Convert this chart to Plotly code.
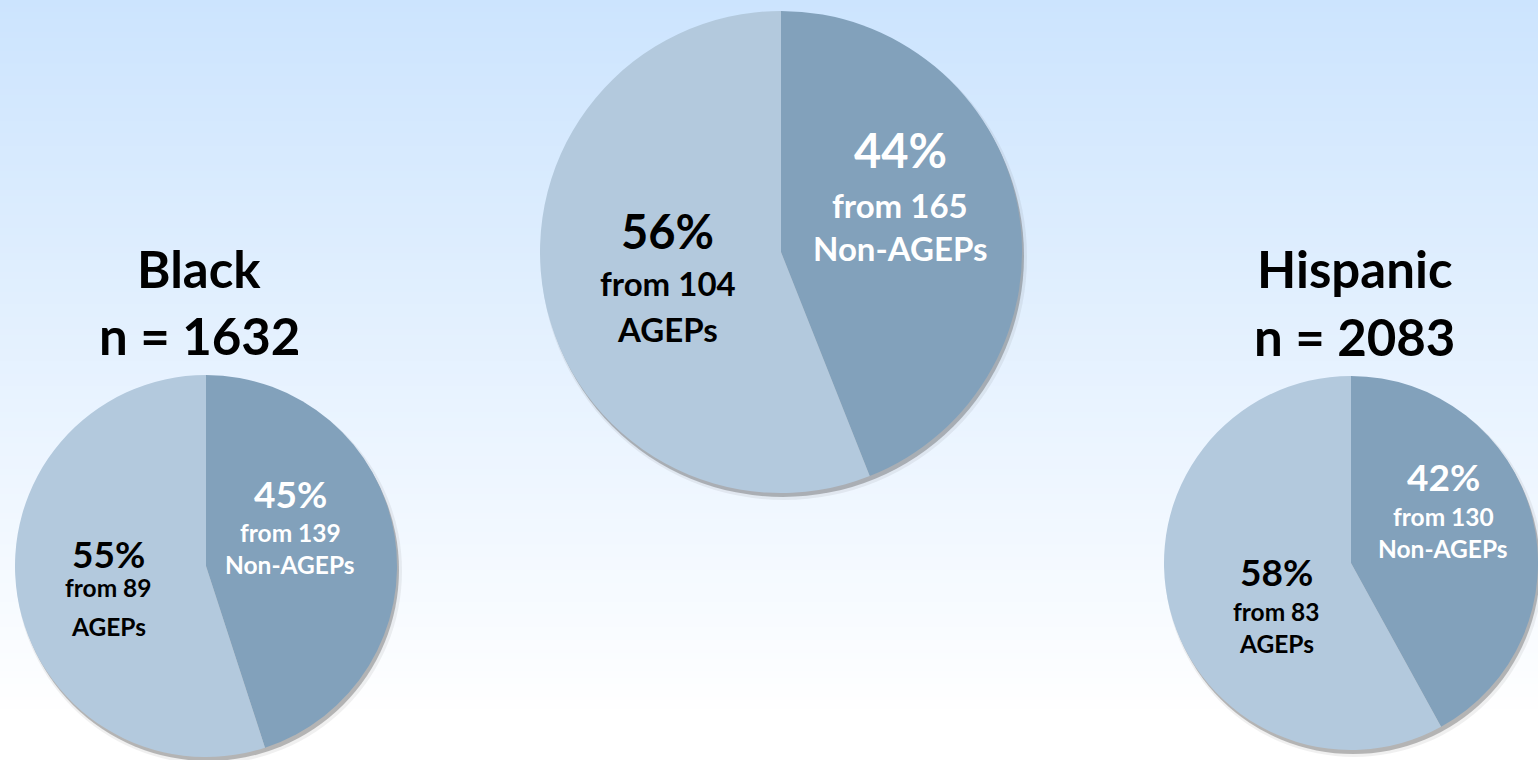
import plotly.graph_objects as go

W, H = 1538, 760

# ---- data -------------------------------------------------------------
groups = ["Black", "", "Hispanic"]
group_n = [1632, None, 2083]
non_agep_pct = [45, 44, 42]
agep_pct = [55, 56, 58]
non_agep_count = [139, 165, 130]
agep_count = [89, 104, 83]

# ---- styling ----------------------------------------------------------
DARK = "#82a1bb"
LIGHT = "#b3c9dd"
FONT = "Lato"

# pie placement in pixels: centre x, centre y, radius
pies = [
    dict(cx=206, cy=566, r=191, big=37, small=24.5, title=51, tdx=-7),
    dict(cx=781, cy=252, r=241, big=47, small=33, title=51, tdx=0),
    dict(cx=1351, cy=563, r=187, big=37, small=24.5, title=51, tdx=3),
]
# label anchors as offsets from the pie centre, in units of radius:
# (x offset, y offset of first line, gap to second line, gap to third line)
dark_lbl = [(0.44, -0.382, 0.204, 0.372), (0.494, -0.423, 0.228, 0.407), (0.492, -0.46, 0.214, 0.38)]
light_lbl = [(-0.513, -0.063, 0.178, 0.382), (-0.469, -0.087, 0.216, 0.407), (-0.401, 0.043, 0.219, 0.385)]


def px(x):
    return x / W


def py(y):
    return 1 - y / H


fig = go.Figure()
shapes = []
annotations = []

# vertical background gradient: light sky blue to white
top = (204, 228, 254)
n_strips = 120
fade_end = 720
for i in range(n_strips):
    y0 = H * i / n_strips
    y1 = H * (i + 1) / n_strips + 1
    t = min(1.0, ((y0 + y1) / 2) / fade_end)
    c = tuple(round(a + (255 - a) * t) for a in top)
    shapes.append(dict(type="rect", xref="paper", yref="paper", layer="below",
                       x0=0, x1=1, y0=py(min(y1, H)), y1=py(y0),
                       line=dict(width=0), fillcolor=f"rgb{c}"))

for i, p in enumerate(pies):
    cx, cy, r = p["cx"], p["cy"], p["r"]
    # soft drop shadow under each pie, offset down and to the right
    for dx, dy, dr, a in [(3, 5, 2, 0.08), (2, 4, 0, 0.35)]:
        shapes.append(dict(type="circle", xref="paper", yref="paper", layer="below",
                           x0=px(cx - r - dr + dx), x1=px(cx + r + dr + dx),
                           y0=py(cy + r + dr + dy), y1=py(cy - r - dr + dy),
                           line=dict(width=0), fillcolor=f"rgba(70,70,70,{a})"))

    x0 = max(0, cx - r)
    x1 = min(W, cx + r)
    fig.add_trace(go.Pie(
        values=[non_agep_pct[i], agep_pct[i]],
        labels=["Non-AGEPs", "AGEPs"],
        marker=dict(colors=[DARK, LIGHT], line=dict(width=0)),
        sort=False, direction="clockwise", rotation=0,
        textinfo="none", hoverinfo="skip", showlegend=False,
        domain=dict(x=[px(x0), px(x1)], y=[py(cy + r), py(cy - r)]),
    ))

    # slice labels
    for (ox, oy, g1, g2), pct, cnt, kind, col in [
        (dark_lbl[i], non_agep_pct[i], non_agep_count[i], "Non-AGEPs", "white"),
        (light_lbl[i], agep_pct[i], agep_count[i], "AGEPs", "black"),
    ]:
        lx, ly = cx + ox * r, cy + oy * r
        lines = [(f"{pct}%", p["big"], 0), (f"from {cnt}", p["small"], g1 * r),
                 (kind, p["small"], g2 * r)]
        for txt, size, off in lines:
            annotations.append(dict(x=px(lx), y=py(ly + off), xref="paper", yref="paper",
                                    text=f"<b>{txt}</b>", showarrow=False,
                                    xanchor="center", yanchor="middle",
                                    font=dict(family=FONT, size=size, color=col)))

    # group heading above the pie
    if groups[i]:
        tx = px(cx + p["tdx"])
        annotations.append(dict(x=tx, y=py(cy - r - 107), xref="paper", yref="paper",
                                text=f"<b>{groups[i]}</b>", showarrow=False,
                                xanchor="center", yanchor="middle",
                                font=dict(family=FONT, size=p["title"], color="black")))
        annotations.append(dict(x=tx, y=py(cy - r - 40), xref="paper", yref="paper",
                                text=f"<b>n = {group_n[i]}</b>", showarrow=False,
                                xanchor="center", yanchor="middle",
                                font=dict(family=FONT, size=p["title"], color="black")))

fig.update_layout(
    width=W, height=H,
    margin=dict(l=0, r=0, t=0, b=0),
    paper_bgcolor="white", plot_bgcolor="white",
    shapes=shapes, annotations=annotations,
)

fig.write_html("out.html", config=dict(displayModeBar=False))
